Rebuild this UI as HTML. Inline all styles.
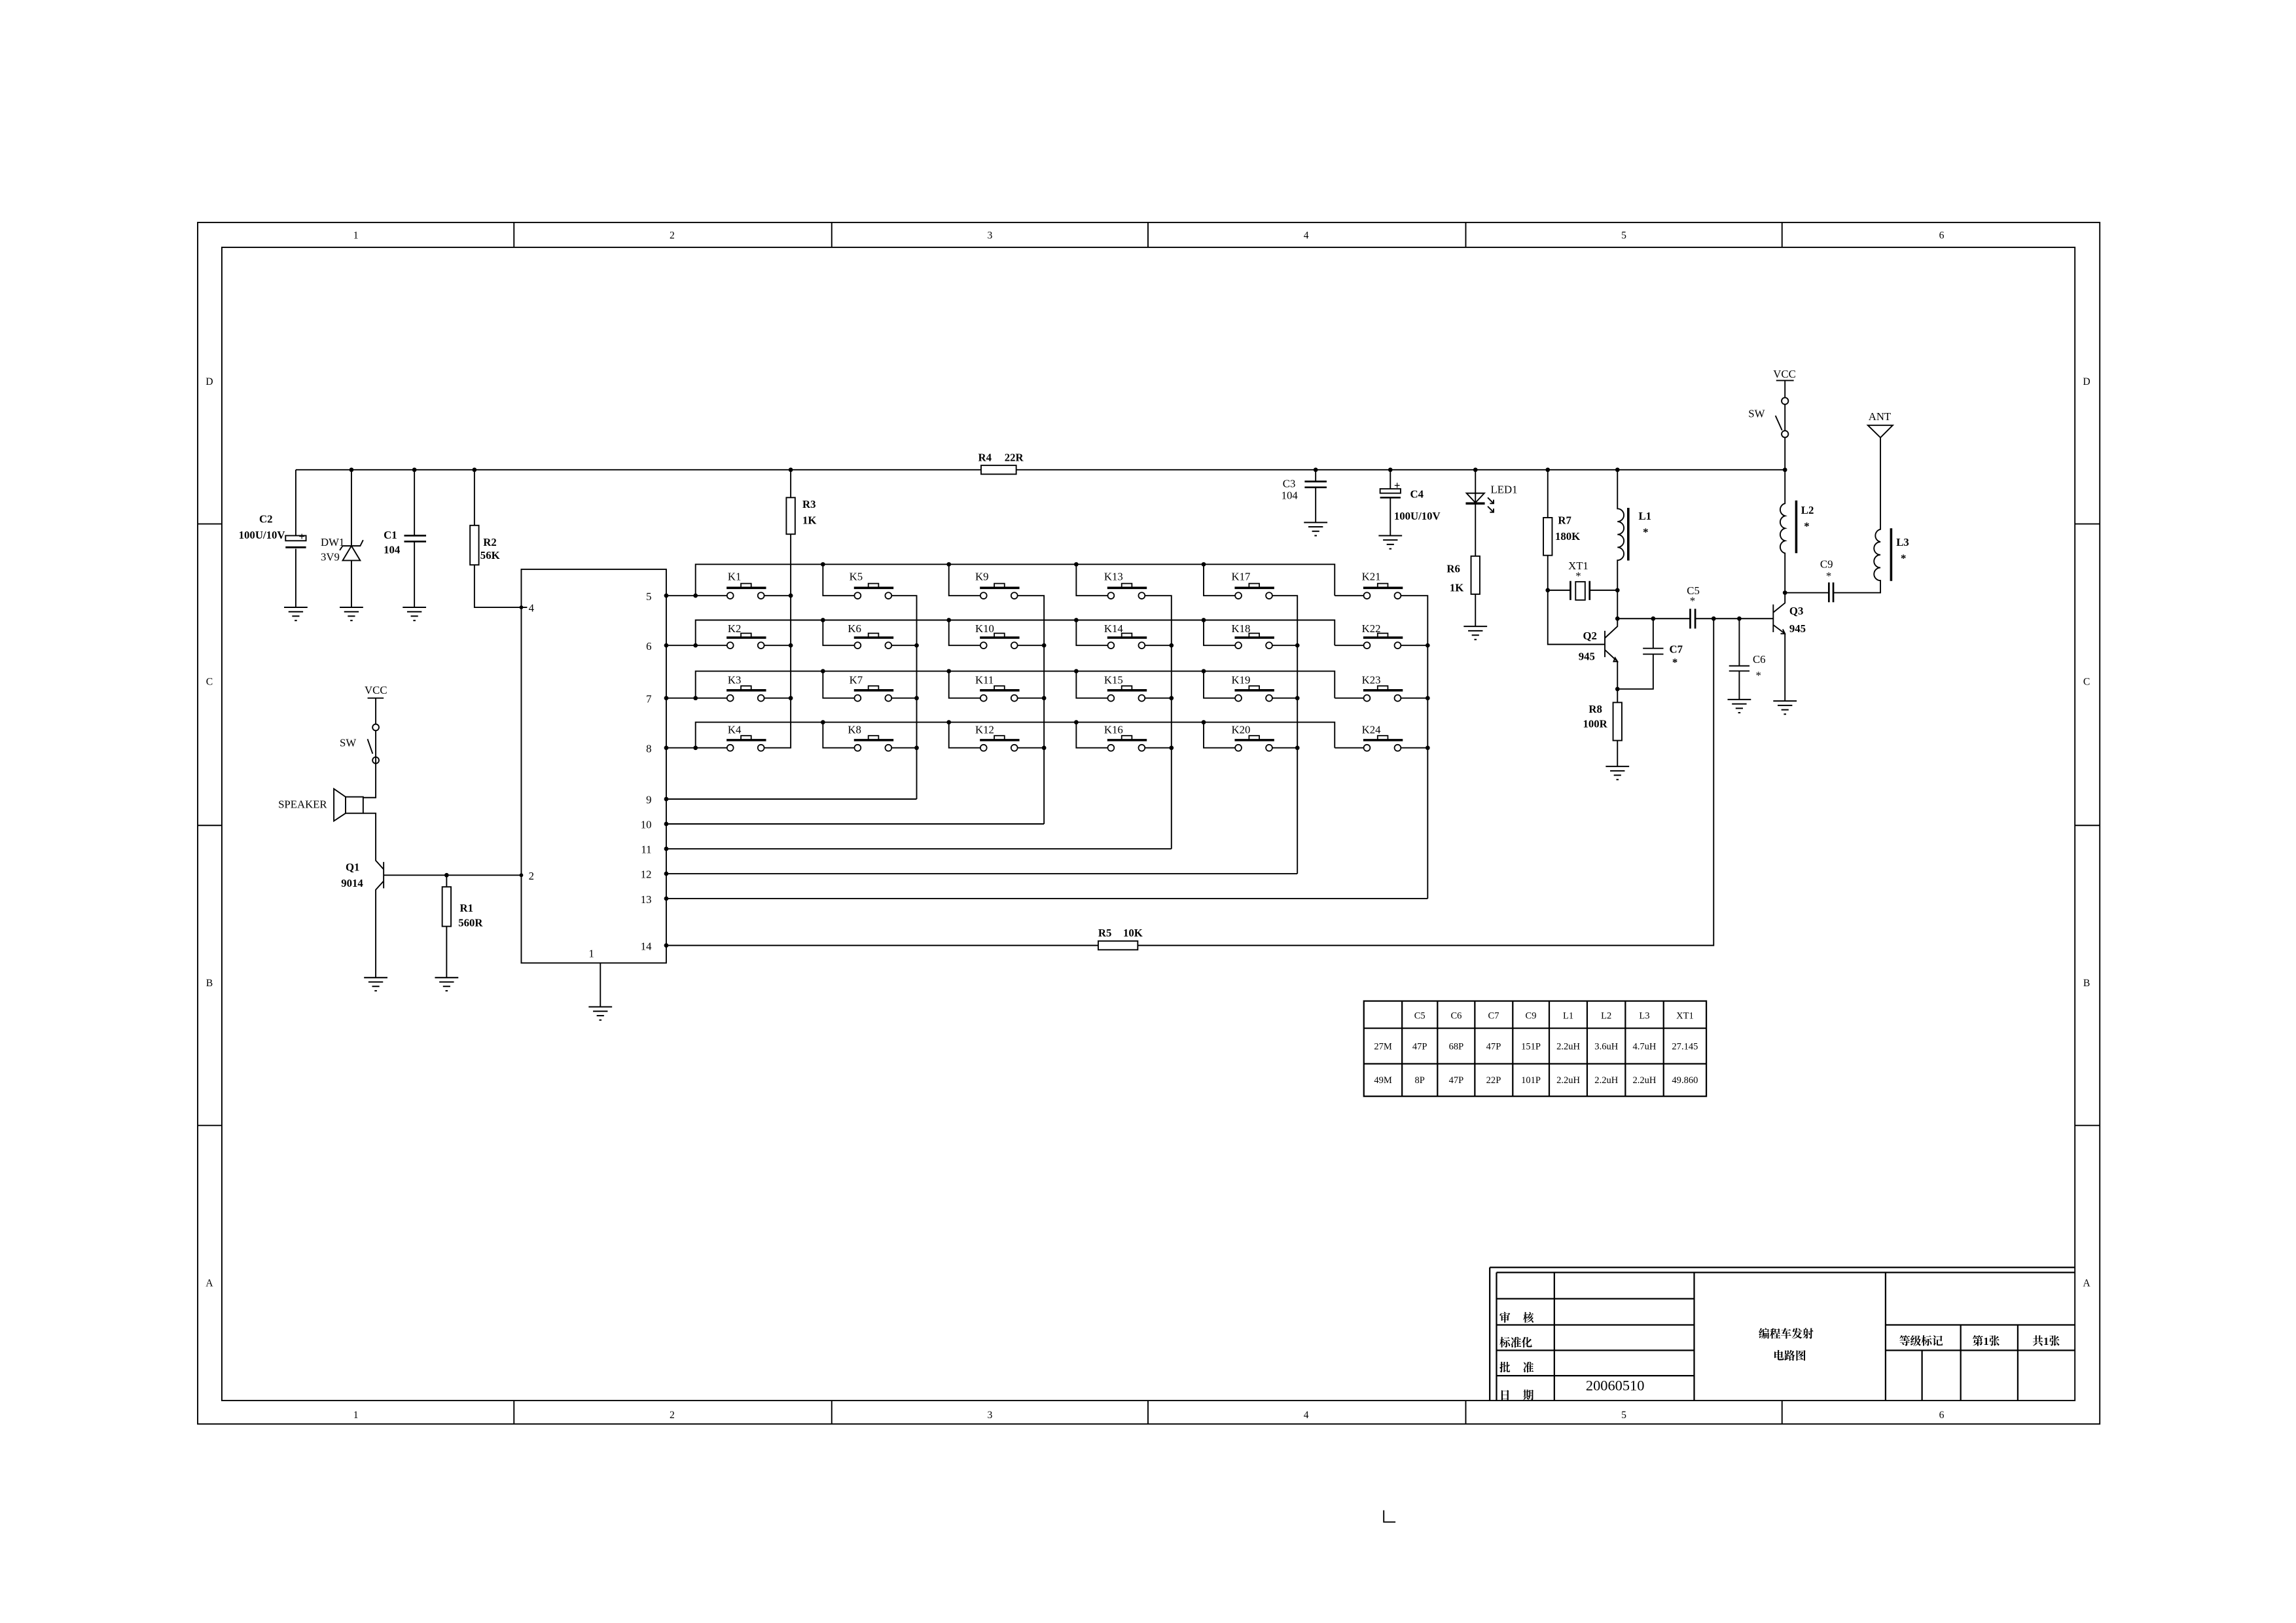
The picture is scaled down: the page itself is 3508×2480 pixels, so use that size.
<!DOCTYPE html>
<html><head><meta charset="utf-8"><style>
html,body{margin:0;padding:0;background:#fff;}
svg{display:block;}
text{font-family:"Liberation Serif","Noto Serif CJK SC","Noto Sans CJK SC",serif;fill:#000;}
.b{font-weight:bold;}
</style></head><body>
<svg width="3508" height="2480" viewBox="0 0 1568 1109" preserveAspectRatio="none" xmlns="http://www.w3.org/2000/svg">
<defs>
<g id="gnd" stroke="#000" stroke-width="0.9" fill="none"><line x1="-8" y1="0" x2="8" y2="0"/><line x1="-5" y1="3" x2="5" y2="3"/><line x1="-2.5" y1="6" x2="2.5" y2="6"/><line x1="-0.8" y1="9" x2="0.8" y2="9"/></g>
<g id="sw" stroke="#000" fill="none"><circle cx="0" cy="0" r="2.2" stroke-width="0.8" fill="#fff"/><circle cx="21" cy="0" r="2.2" stroke-width="0.8" fill="#fff"/><line x1="-2.5" y1="-5.3" x2="24.5" y2="-5.3" stroke-width="1.6"/><rect x="7.3" y="-8.3" width="7" height="3" stroke-width="0.8"/></g>
</defs>
<rect width="1568" height="1109" fill="#fff"/>
<g stroke="#000" stroke-width="0.85" fill="none">
<rect x="135" y="152" width="1299" height="821"/>
<rect x="151.5" y="169" width="1265.5" height="788"/>
<path d="M351 152V169M568 152V169M784 152V169M1001 152V169M1217 152V169M351 957V973M568 957V973M784 957V973M1001 957V973M1217 957V973M135 358H151.5M135 564H151.5M135 769H151.5M1417 358H1434M1417 564H1434M1417 769H1434"/>
<path d="M1017.4 866H1417M1017.4 866V957M1022 869.5H1417M1022 869.5V957M1022 887.4H1157M1022 905.3H1157M1022 922.7H1157M1022 940H1157M1061.5 869.5V957M1157 869.5V957M1287.7 869.5V957M1287.7 905.3H1417M1287.7 922.7H1417M1339 905.3V957M1378 905.3V957M1312.6 922.7V957" stroke-width="1"/>
<path d="M945 1032V1040H953"/>
<rect x="931.4" y="684" width="233.9" height="65.1" stroke-width="1"/>
<path d="M957.5 684V749M981.7 684V749M1007.2 684V749M1033.1 684V749M1058 684V749M1083.9 684V749M1110 684V749M1136.1 684V749M931.4 702.6H1165.3M931.4 726.9H1165.3" stroke-width="1"/>
<path d="M202 321H670M694 321H1219"/>
<rect x="670" y="318" width="24" height="6"/>
<path d="M202 321V366M202 375V415"/>
<rect x="195" y="366" width="14" height="3.5"/><line x1="195" y1="374" x2="209" y2="374" stroke-width="1.3"/>
<use href="#gnd" x="202" y="415"/>
<path d="M240 321V373M240 383V415M234 383H246L240 373Z M234 373H246L248 369M234 373L232 376"/>
<use href="#gnd" x="240" y="415"/>
<path d="M283 321V366M283 370V415"/>
<path d="M276 366H291M276 370H291" stroke-width="1.2"/>
<use href="#gnd" x="283" y="415"/>
<path d="M324 321V359M324 386V415H360"/>
<rect x="321" y="359" width="6" height="27"/>
<path d="M540 321V340M540 365V511H519.5"/>
<rect x="537" y="340" width="6" height="25"/>
<rect x="356" y="389" width="99" height="269"/>
<path d="M410 658V688"/>
<use href="#gnd" x="410" y="688"/>
<path d="M455 407H496.5M521.7 407H540M455 441H496.5M521.7 441H540M455 477H496.5M521.7 477H540M455 511H496.5"/>
<path d="M475 407V385.6H911.5V407M475 441V423.7H911.5V441M475 477V458.6H911.5V477M475 511V493.5H911.5V511"/>
<path d="M562 385.6V407H583.5M562 423.7V441H583.5M562 458.6V477H583.5M562 493.5V511H583.5"/>
<path d="M648 385.6V407H669.5M648 423.7V441H669.5M648 458.6V477H669.5M648 493.5V511H669.5"/>
<path d="M735 385.6V407H756.5M735 423.7V441H756.5M735 458.6V477H756.5M735 493.5V511H756.5"/>
<path d="M822 385.6V407H843.5M822 423.7V441H843.5M822 458.6V477H843.5M822 493.5V511H843.5"/>
<path d="M911.5 407H931.3M911.5 441H931.3M911.5 477H931.3M911.5 511H931.3"/>
<path d="M608.7 407H626V546M608.7 441H626M608.7 477H626M608.7 511H626"/>
<path d="M694.7 407H713V563M694.7 441H713M694.7 477H713M694.7 511H713"/>
<path d="M781.7 407H800V580M781.7 441H800M781.7 477H800M781.7 511H800"/>
<path d="M868.7 407H886V597M868.7 441H886M868.7 477H886M868.7 511H886"/>
<path d="M956.5 407H975V614M956.5 441H975M956.5 477H975M956.5 511H975"/>
<path d="M455 546H626M455 563H713M455 580H800M455 597H886M455 614H975"/>
<path d="M455 646H750M777 646H1170.3V422.7"/>
<rect x="750" y="643" width="27" height="6"/>
<path d="M251 477H262M256.6 477V495M256.6 499.5V545H248M248 555.7H256.6V588L262 594M262 589V607M262 602L256.6 608V668M254.5 515L251 505M256.6 519.5V517"/>
<circle cx="256.6" cy="497" r="2.2"/><circle cx="256.6" cy="519.5" r="2.2"/>
<rect x="236" y="544.5" width="12" height="11.2"/>
<path d="M236 544.5L228 539V561L236 555.7"/>
<path d="M262 598H356M305 598V606M305 633V668"/>
<rect x="302" y="606" width="6" height="27"/>
<use href="#gnd" x="256.6" y="668"/><use href="#gnd" x="305" y="668"/>
<path d="M898.5 321V329M898.5 333V357"/>
<path d="M891 329H906M891 333H906" stroke-width="1.2"/>
<use href="#gnd" x="898.5" y="357"/>
<path d="M949.5 321V334M949.5 340V366"/>
<rect x="942.5" y="334" width="14" height="3"/><line x1="942.5" y1="340" x2="956.5" y2="340" stroke-width="1.2"/>
<use href="#gnd" x="949.5" y="366"/>
<path d="M1007.6 321V350M1001.5 337H1013.7L1007.6 343.5Z M1007.6 343.5V380M1007.6 406V428"/>
<line x1="1001" y1="344" x2="1014" y2="344" stroke-width="1.6"/>
<path d="M1016 340L1020 344M1020 341.5V344H1017.5M1016 346L1020 350M1020 347.5V350H1017.5"/>
<rect x="1004.6" y="380" width="6" height="26"/>
<use href="#gnd" x="1007.6" y="428"/>
<path d="M1057 321V353.7M1057 379.5V440.3H1096M1057 403.3H1072.5M1085.6 403.3H1104.6"/>
<rect x="1054" y="353.7" width="6" height="25.8"/>
<path d="M1072.5 397V410M1085.6 397V410" stroke-width="1.2"/>
<rect x="1076" y="397.5" width="6.5" height="12.5"/>
<path d="M1104.6 321V347.6 a4.4 4.4 0 0 1 0 8.8 a4.4 4.4 0 0 1 0 8.8 a4.4 4.4 0 0 1 0 8.8 a4.4 4.4 0 0 1 0 8.8 V428 L1096 436 M1096 431V449 M1096 444L1104.6 452V480"/>
<line x1="1112" y1="347" x2="1112" y2="383" stroke-width="1.6"/>
<path d="M1102 452L1104.6 452L1103 449.5Z"/>
<rect x="1101.6" y="480" width="6" height="26"/>
<path d="M1104.6 506V523.7M1104.6 470.8H1129V447M1129 443V422.7M1104.6 422.7H1154.3M1157.7 422.7H1211M1122 443H1136M1122 447H1136"/>
<use href="#gnd" x="1104.6" y="523.7"/>
<path d="M1154.3 416V429.5M1157.7 416V429.5" stroke-width="1.2"/>
<path d="M1187.8 422.7V455M1187.8 458.5V478M1180.8 455H1194.8M1180.8 458.5H1194.8"/>
<use href="#gnd" x="1187.8" y="478"/>
<path d="M1211 413V432M1211 418.5L1219 412V405M1211 427L1219 433V479M1216 433L1219 433L1217.5 430"/>
<use href="#gnd" x="1219" y="479"/>
<path d="M1219 405V378 a4.4 4.4 0 0 1 0 -8.5 a4.4 4.4 0 0 1 0 -8.5 a4.4 4.4 0 0 1 0 -8.5 a4.4 4.4 0 0 1 0 -8.5 V320 M1219 320V299 M1219 294.3V276.3M1217 294L1212.5 284M1213 260H1225M1219 260V271.7"/>
<circle cx="1219" cy="274" r="2.3"/><circle cx="1219" cy="296.6" r="2.3"/>
<line x1="1226.7" y1="342" x2="1226.7" y2="378" stroke-width="1.6"/>
<path d="M1219 405H1249M1251.7 405H1284.2V396.7 a4.4 4.4 0 0 1 0 -8.8 a4.4 4.4 0 0 1 0 -8.8 a4.4 4.4 0 0 1 0 -8.8 a4.4 4.4 0 0 1 0 -8.6 V299 M1275.6 290.6H1292.6L1284.2 299Z"/>
<path d="M1249 398V411.5M1252 398V411.5" stroke-width="1.2"/>
<line x1="1291.5" y1="361" x2="1291.5" y2="397" stroke-width="1.6"/>
</g>
<g>
<use href="#sw" x="498.7" y="407"/><use href="#sw" x="498.7" y="441"/><use href="#sw" x="498.7" y="477"/><use href="#sw" x="498.7" y="511"/>
<use href="#sw" x="585.7" y="407"/><use href="#sw" x="585.7" y="441"/><use href="#sw" x="585.7" y="477"/><use href="#sw" x="585.7" y="511"/>
<use href="#sw" x="671.7" y="407"/><use href="#sw" x="671.7" y="441"/><use href="#sw" x="671.7" y="477"/><use href="#sw" x="671.7" y="511"/>
<use href="#sw" x="758.7" y="407"/><use href="#sw" x="758.7" y="441"/><use href="#sw" x="758.7" y="477"/><use href="#sw" x="758.7" y="511"/>
<use href="#sw" x="845.7" y="407"/><use href="#sw" x="845.7" y="441"/><use href="#sw" x="845.7" y="477"/><use href="#sw" x="845.7" y="511"/>
<use href="#sw" x="933.5" y="407"/><use href="#sw" x="933.5" y="441"/><use href="#sw" x="933.5" y="477"/><use href="#sw" x="933.5" y="511"/>
</g>
<g fill="#000">
<circle cx="240" cy="321" r="1.5"/><circle cx="283" cy="321" r="1.5"/><circle cx="324" cy="321" r="1.5"/><circle cx="540" cy="321" r="1.5"/>
<circle cx="898.5" cy="321" r="1.5"/><circle cx="949.5" cy="321" r="1.5"/><circle cx="1007.6" cy="321" r="1.5"/><circle cx="1057" cy="321" r="1.5"/><circle cx="1104.6" cy="321" r="1.5"/><circle cx="1219" cy="321" r="1.5"/>
<circle cx="356" cy="415" r="1.3"/><circle cx="356" cy="598" r="1.3"/><circle cx="305" cy="598" r="1.5"/>
<circle cx="455" cy="407" r="1.5"/><circle cx="455" cy="441" r="1.5"/><circle cx="455" cy="477" r="1.5"/><circle cx="455" cy="511" r="1.5"/><circle cx="455" cy="546" r="1.5"/><circle cx="455" cy="563" r="1.5"/><circle cx="455" cy="580" r="1.5"/><circle cx="455" cy="597" r="1.5"/><circle cx="455" cy="614" r="1.5"/><circle cx="455" cy="646" r="1.5"/>
<circle cx="475" cy="407" r="1.5"/><circle cx="475" cy="441" r="1.5"/><circle cx="475" cy="477" r="1.5"/><circle cx="475" cy="511" r="1.5"/>
<circle cx="540" cy="407" r="1.5"/><circle cx="540" cy="441" r="1.5"/><circle cx="540" cy="477" r="1.5"/>
<circle cx="562" cy="385.6" r="1.5"/><circle cx="562" cy="423.7" r="1.5"/><circle cx="562" cy="458.6" r="1.5"/><circle cx="562" cy="493.5" r="1.5"/>
<circle cx="648" cy="385.6" r="1.5"/><circle cx="648" cy="423.7" r="1.5"/><circle cx="648" cy="458.6" r="1.5"/><circle cx="648" cy="493.5" r="1.5"/>
<circle cx="735" cy="385.6" r="1.5"/><circle cx="735" cy="423.7" r="1.5"/><circle cx="735" cy="458.6" r="1.5"/><circle cx="735" cy="493.5" r="1.5"/>
<circle cx="822" cy="385.6" r="1.5"/><circle cx="822" cy="423.7" r="1.5"/><circle cx="822" cy="458.6" r="1.5"/><circle cx="822" cy="493.5" r="1.5"/>
<circle cx="626" cy="441" r="1.5"/><circle cx="626" cy="477" r="1.5"/><circle cx="626" cy="511" r="1.5"/>
<circle cx="713" cy="441" r="1.5"/><circle cx="713" cy="477" r="1.5"/><circle cx="713" cy="511" r="1.5"/>
<circle cx="800" cy="441" r="1.5"/><circle cx="800" cy="477" r="1.5"/><circle cx="800" cy="511" r="1.5"/>
<circle cx="886" cy="441" r="1.5"/><circle cx="886" cy="477" r="1.5"/><circle cx="886" cy="511" r="1.5"/>
<circle cx="975" cy="441" r="1.5"/><circle cx="975" cy="477" r="1.5"/><circle cx="975" cy="511" r="1.5"/>
<circle cx="1057" cy="403.3" r="1.5"/><circle cx="1104.6" cy="403.3" r="1.5"/><circle cx="1104.6" cy="422.7" r="1.5"/><circle cx="1129" cy="422.7" r="1.5"/><circle cx="1104.6" cy="470.8" r="1.5"/>
<circle cx="1170.3" cy="422.7" r="1.5"/><circle cx="1187.8" cy="422.7" r="1.5"/><circle cx="1219" cy="405" r="1.5"/>
</g>
<g font-size="7" text-anchor="middle">
<text x="243" y="163">1</text><text x="459" y="163">2</text><text x="676" y="163">3</text><text x="892" y="163">4</text><text x="1109" y="163">5</text><text x="1326" y="163">6</text>
<text x="243" y="969">1</text><text x="459" y="969">2</text><text x="676" y="969">3</text><text x="892" y="969">4</text><text x="1109" y="969">5</text><text x="1326" y="969">6</text>
<text x="143" y="263">D</text><text x="143" y="468">C</text><text x="143" y="674">B</text><text x="143" y="879">A</text>
<text x="1425" y="263">D</text><text x="1425" y="468">C</text><text x="1425" y="674">B</text><text x="1425" y="879">A</text>
</g>
<g font-size="7.5">
<text x="497" y="396.4">K1</text><text x="497" y="432">K2</text><text x="497" y="467">K3</text><text x="497" y="501">K4</text>
<text x="580" y="396.4">K5</text><text x="579" y="432">K6</text><text x="580" y="467">K7</text><text x="579" y="501">K8</text>
<text x="666" y="396.4">K9</text><text x="666" y="432">K10</text><text x="666" y="467">K11</text><text x="666" y="501">K12</text>
<text x="754" y="396.4">K13</text><text x="754" y="432">K14</text><text x="754" y="467">K15</text><text x="754" y="501">K16</text>
<text x="841" y="396.4">K17</text><text x="841" y="432">K18</text><text x="841" y="467">K19</text><text x="841" y="501">K20</text>
<text x="930" y="396.4">K21</text><text x="930" y="432">K22</text><text x="930" y="467">K23</text><text x="930" y="501">K24</text>
<text x="361" y="418">4</text><text x="361" y="601">2</text><text x="402" y="654">1</text>
<g text-anchor="end"><text x="445" y="410">5</text><text x="445" y="444">6</text><text x="445" y="480">7</text><text x="445" y="514">8</text><text x="445" y="549">9</text><text x="445" y="566">10</text><text x="445" y="583">11</text><text x="445" y="600">12</text><text x="445" y="617">13</text><text x="445" y="649">14</text></g>
<text x="219" y="373">DW1</text><text x="219" y="383">3V9</text>
<text x="249" y="474">VCC</text><text x="232" y="510">SW</text><text x="190" y="552">SPEAKER</text>
<text x="876" y="333">C3</text><text x="875" y="341">104</text>
<text x="1018" y="337">LED1</text>
<text x="1071" y="389">XT1</text><text x="1076" y="396">*</text>
<text x="1152" y="406">C5</text><text x="1154" y="413">*</text>
<text x="1197" y="453">C6</text><text x="1199" y="464">*</text>
<text x="1243" y="388">C9</text><text x="1247" y="396">*</text>
<text x="1211" y="258">VCC</text><text x="1194" y="285">SW</text><text x="1276" y="287">ANT</text>
</g>
<g font-size="7.5">
<text x="177" y="357" class="b">C2</text><text x="163" y="368" class="b">100U/10V</text><text x="204" y="369" class="b">+</text>
<text x="262" y="368" class="b">C1</text><text x="262" y="378" class="b">104</text>
<text x="330" y="373" class="b">R2</text><text x="328" y="382" class="b">56K</text>
<text x="548" y="347" class="b">R3</text><text x="548" y="358" class="b">1K</text>
<text x="668" y="315" class="b">R4</text><text x="686" y="315" class="b">22R</text>
<text x="963" y="340" class="b">C4</text><text x="952" y="355" class="b">100U/10V</text><text x="952" y="334" class="b">+</text>
<text x="988" y="391" class="b">R6</text><text x="990" y="404" class="b">1K</text>
<text x="1064" y="358" class="b">R7</text><text x="1062" y="369" class="b">180K</text>
<text x="1119" y="355" class="b">L1</text><text x="1122" y="366" class="b">*</text>
<text x="1230" y="351" class="b">L2</text><text x="1232" y="362" class="b">*</text>
<text x="1295" y="373" class="b">L3</text><text x="1298" y="384" class="b">*</text>
<text x="1081" y="437" class="b">Q2</text><text x="1078" y="451" class="b">945</text>
<text x="1140" y="446" class="b">C7</text><text x="1142" y="455" class="b">*</text>
<text x="1222" y="420" class="b">Q3</text><text x="1222" y="432" class="b">945</text>
<text x="1085" y="487" class="b">R8</text><text x="1081" y="497" class="b">100R</text>
<text x="236" y="595" class="b">Q1</text><text x="233" y="606" class="b">9014</text>
<text x="314" y="623" class="b">R1</text><text x="313" y="633" class="b">560R</text>
<text x="750" y="640" class="b">R5</text><text x="767" y="640" class="b">10K</text>
</g>
<g font-size="6.5" text-anchor="middle">
<text x="969.6" y="696">C5</text><text x="994.5" y="696">C6</text><text x="1020" y="696">C7</text><text x="1045.5" y="696">C9</text><text x="1071" y="696">L1</text><text x="1097" y="696">L2</text><text x="1123" y="696">L3</text><text x="1150.7" y="696">XT1</text>
<text x="944.5" y="717">27M</text><text x="969.6" y="717">47P</text><text x="994.5" y="717">68P</text><text x="1020" y="717">47P</text><text x="1045.5" y="717">151P</text><text x="1071" y="717">2.2uH</text><text x="1097" y="717">3.6uH</text><text x="1123" y="717">4.7uH</text><text x="1150.7" y="717">27.145</text>
<text x="944.5" y="740">49M</text><text x="969.6" y="740">8P</text><text x="994.5" y="740">47P</text><text x="1020" y="740">22P</text><text x="1045.5" y="740">101P</text><text x="1071" y="740">2.2uH</text><text x="1097" y="740">2.2uH</text><text x="1123" y="740">2.2uH</text><text x="1150.7" y="740">49.860</text>
</g>
<g font-size="7.5" font-weight="bold" style='font-family:"Liberation Serif","Noto Sans CJK SC",sans-serif'>
<text x="1024" y="903">审</text><text x="1040" y="903">核</text>
<text x="1024" y="920">标准化</text>
<text x="1024" y="937">批</text><text x="1040" y="937">准</text>
<text x="1024" y="956">日</text><text x="1040" y="956">期</text>
<text x="1201" y="914">编程车发射</text>
<text x="1211" y="929">电路图</text>
<text x="1297" y="919">等级标记</text>
<text x="1347" y="919">第1张</text>
<text x="1388" y="919">共1张</text>
</g>
<text x="1083" y="950" font-size="10">20060510</text>
</svg>
</body></html>
